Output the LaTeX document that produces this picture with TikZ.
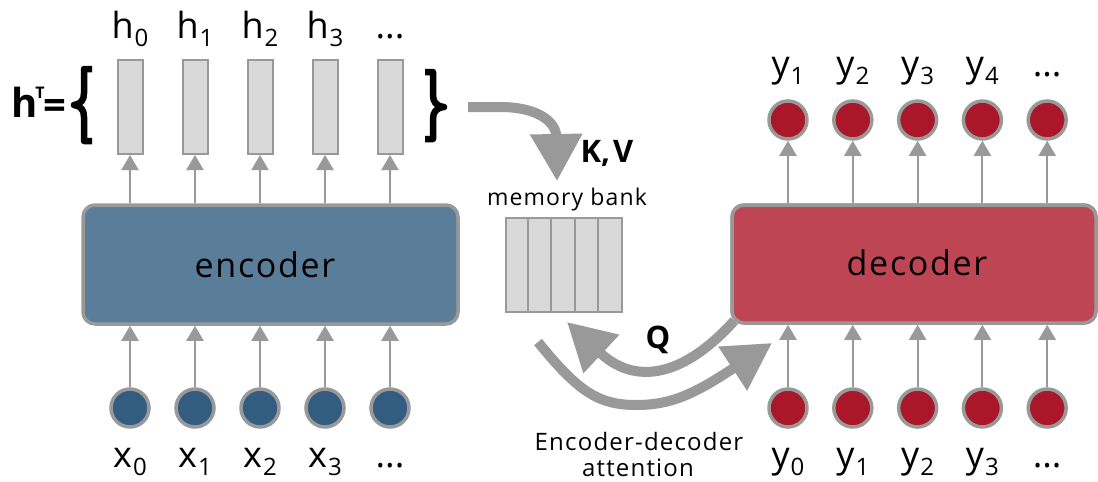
\documentclass[tikz,border=0pt]{standalone}
\usepackage{fontspec}
\setmainfont{Open Sans}
\newfontfamily\wide{Open Sans}[LetterSpace=5]
\usetikzlibrary{arrows.meta}

\definecolor{edge}{HTML}{999999}
\definecolor{cell}{HTML}{D9D9D9}
\definecolor{encfill}{HTML}{5A7D9A}
\definecolor{encdot}{HTML}{335C81}
\definecolor{decfill}{HTML}{BE4654}
\definecolor{decdot}{HTML}{AA1728}

% symbol with a lowered index
\newcommand\sym[2]{\fontsize{36}{40}\selectfont #1\kern1pt\raisebox{-8pt}{\fontsize{24}{24}\selectfont #2}}

\begin{document}
\begin{tikzpicture}[x=1pt,y=-1pt,
  arr/.style={draw=edge,line width=2pt,-{Triangle[length=15pt,width=17pt]}},
  flow/.style={draw=edge,line width=10pt,-{Triangle[length=47pt,width=50pt]}},
  brace/.style={draw=black,line width=6.5pt,line join=round},
  block/.style={draw=edge,line width=3.5pt,rounded corners=12pt,inner sep=0pt},
  dot/.style={circle,draw=edge,line width=3.5pt,minimum size=38pt,inner sep=0pt},
  hcell/.style={rectangle,draw=edge,fill=cell,line width=2pt,minimum width=25pt,minimum height=94pt,inner sep=0pt},
  lab/.style={anchor=base,inner sep=0pt},
  note/.style={anchor=base,inner sep=0pt,font=\wide\fontsize{24}{26}\selectfont},
  boxtext/.style={anchor=base,inner sep=0pt,font=\wide\fontsize{34}{36}\selectfont},
  bold/.style={anchor=base,inner sep=0pt,font=\bfseries\fontsize{31}{34}\selectfont}]

\useasboundingbox (0,0) rectangle (1098,482);

% attention flows (drawn first so the boxes cover their ends)
\coordinate (kvs) at (468,107);
\coordinate (kvt) at (557,181);
\draw[flow] (kvs) -- (500,107) .. controls (538,107) and (556,122) .. (kvt);

\node[block,minimum width=364pt,minimum height=118pt,fill=decfill] (dec) at (914,264) {};
\coordinate (qs) at ([shift={(4,-4)}]dec.south west);
\coordinate (qt) at (567,322);
\draw[flow] (qs) .. controls (690,370) and (640,390) .. (qt);

\coordinate (es) at (538,342);
\coordinate (em) at (637,405);
\coordinate (et) at (772,343);
\draw[flow] (es) .. controls (580,394) and (600,405) .. (em) .. controls (675,405) and (700,390) .. (et);

% redraw decoder over the flow ends
\node[block,minimum width=364pt,minimum height=118pt,fill=decfill] (dec2) at (914,264) {};
\node[boxtext] (declab) at (917,275) {decoder};

% encoder
\node[block,minimum width=375pt,minimum height=119pt,fill=encfill] (enc) at (270.5,264.5) {};
\node[boxtext] (enclab) at (265,277) {encoder};

% encoder inputs, hidden states and their labels
\foreach \i/\t in {0/\sym{x}{0},1/\sym{x}{1},2/\sym{x}{2},3/\sym{x}{3},4/{\fontsize{36}{40}\selectfont...}} {
  \pgfmathsetmacro\xx{130+65*\i}
  \node[dot,fill=encdot] (x\i) at (\xx,408) {};
  \node[lab] (xl\i) at (\xx,467) {\t};
  \draw[arr] (x\i.north) -- (x\i.north |- enc.south);
  \node[hcell] (h\i) at (\xx,107) {};
  \draw[arr] (h\i.south |- enc.north) -- (h\i.south);
}
\foreach \i/\t in {0/\sym{h}{0},1/\sym{h}{1},2/\sym{h}{2},3/\sym{h}{3},4/{\fontsize{36}{40}\selectfont...}} {
  \pgfmathsetmacro\xx{130+65*\i}
  \node[lab] (hl\i) at (\xx,38) {\t};
}

% h^T = { ... }
\node[anchor=base west,inner sep=0pt,font=\bfseries\fontsize{40}{40}\selectfont] (ht) at (11,117)
  {h\kern-2pt\raisebox{19pt}{\fontsize{16}{16}\selectfont T}};
\node[inner sep=0pt,font=\bfseries\fontsize{40}{40}\selectfont] (eq) at (55,109) {=};
\coordinate (lb) at (74,105);
\coordinate (rb) at (444,107);
\draw[brace] (92,69) -| (84,93) .. controls (84,100) and (81,104) .. (lb)
  .. controls (81,106) and (84,110) .. (84,117) |- (92,141);
\draw[brace] (425,72) -| (433,95) .. controls (433,102) and (436,106) .. (rb)
  .. controls (436,108) and (433,112) .. (433,119) |- (425,139);

% memory bank
\node[rectangle,draw=edge,fill=cell,line width=2pt,minimum width=116pt,minimum height=94pt,inner sep=0pt] (mem) at (564,265) {};
\foreach \k in {1,...,4} {
  \draw[edge,line width=2pt] ([xshift=23.2*\k pt]mem.north west) -- ([xshift=23.2*\k pt]mem.south west);
}
\node[note,font=\wide\fontsize{23}{25}\selectfont] (memlab) at (567,205) {memory bank};
\node[bold] (kv) at (607,162) {K,\kern3pt V};
\node[bold] (q) at (658,348) {Q};
\node[note] (att1) at (639,450) {Encoder-decoder};
\node[note] (att2) at (638,476) {attention};

% decoder inputs and outputs
\foreach \i/\a/\b in {0/\sym{y}{0}/\sym{y}{1},1/\sym{y}{1}/\sym{y}{2},2/\sym{y}{2}/\sym{y}{3},3/\sym{y}{3}/\sym{y}{4},4/{\fontsize{36}{40}\selectfont...}/{\fontsize{36}{40}\selectfont...}} {
  \pgfmathsetmacro\xx{788+64.8*\i}
  \node[dot,fill=decdot] (yi\i) at (\xx,408) {};
  \node[dot,fill=decdot] (yo\i) at (\xx,120) {};
  \node[lab] (yil\i) at (\xx,467) {\a};
  \node[lab] (yol\i) at (\xx,76) {\b};
  \draw[arr] (yi\i.north) -- (yi\i.north |- dec.south);
  \draw[arr] (yo\i.south |- dec.north) -- (yo\i.south);
}
\end{tikzpicture}
\end{document}
